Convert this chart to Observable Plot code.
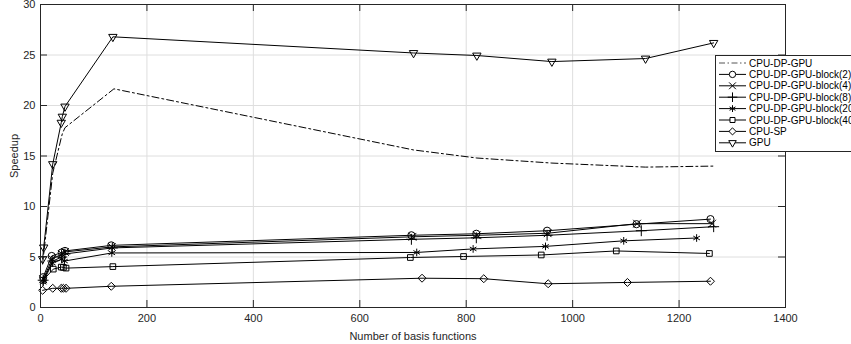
<!DOCTYPE html>
<html><head><meta charset="utf-8">
<script src="https://cdn.jsdelivr.net/npm/d3@7"></script>
<script src="https://cdn.jsdelivr.net/npm/@observablehq/plot@0.6"></script>
<style>
body{margin:0;background:#fff;}
#wrap{position:relative;width:851px;height:344px;overflow:hidden;font-family:"Liberation Sans",Arial,sans-serif;}
#legend{position:absolute;left:715px;top:55px;}
</style>
</head><body><div id="wrap"></div>
<script>
const xTicks = [0, 200, 400, 600, 800, 1000, 1200, 1400];
const yTicks = [0, 5, 10, 15, 20, 25, 30];
const seriesNames = ["CPU-DP-GPU", "CPU-DP-GPU-block(2)", "CPU-DP-GPU-block(4)", "CPU-DP-GPU-block(8)", "CPU-DP-GPU-block(20)", "CPU-DP-GPU-block(40)", "CPU-SP", "GPU"];

const xCpuDpGpu = [4, 6, 23, 39, 41, 46, 138, 701, 820, 961, 1137, 1265];
const yCpuDpGpu = [4.3, 5.3, 13.3, 16.8, 17.2, 17.8, 21.65, 15.6, 14.8, 14.3, 13.9, 14.0];
const xBlock2 = [5, 21, 40, 46, 133, 697, 819, 952, 1120, 1259];
const yBlock2 = [3.0, 5.1, 5.45, 5.6, 6.15, 7.15, 7.3, 7.6, 8.25, 8.75];
const xBlock4 = [5, 22, 40, 46, 134, 699, 820, 953, 1121, 1262];
const yBlock4 = [2.8, 4.8, 5.3, 5.5, 6.0, 7.0, 7.15, 7.35, 8.3, 8.3];
const xBlock8 = [5, 23, 40, 46, 135, 697, 819, 952, 1129, 1265];
const yBlock8 = [2.7, 4.6, 5.0, 5.3, 5.9, 6.75, 6.9, 7.15, 7.6, 8.0];
const xBlock20 = [5, 22, 40, 45, 134, 707, 813, 949, 1096, 1233];
const yBlock20 = [2.5, 4.4, 4.8, 4.6, 5.4, 5.45, 5.8, 6.05, 6.6, 6.88];
const xBlock40 = [5, 24, 39, 43, 48, 136, 695, 795, 941, 1082, 1257];
const yBlock40 = [2.7, 3.8, 4.0, 3.97, 3.9, 4.05, 4.95, 5.05, 5.2, 5.6, 5.35];
const xCpuSp = [4, 23, 39, 43, 48, 133, 717, 833, 954, 1103, 1259];
const yCpuSp = [1.7, 1.9, 1.9, 1.9, 1.9, 2.1, 2.9, 2.85, 2.35, 2.48, 2.6];
const xGpu = [4, 6, 23, 39, 41, 46, 136, 701, 820, 961, 1137, 1265];
const yGpu = [4.8, 5.95, 14.2, 18.3, 18.9, 19.9, 26.8, 25.2, 24.95, 24.35, 24.65, 26.2];

const seriesX = [xCpuDpGpu, xBlock2, xBlock4, xBlock8, xBlock20, xBlock40, xCpuSp, xGpu];
const seriesY = [yCpuDpGpu, yBlock2, yBlock4, yBlock8, yBlock20, yBlock40, yCpuSp, yGpu];
const symbols = [null, "circle", "times", "plus", "asterisk", "square2", "diamond2", "triangle2"];
const d3Symbols = [null, d3.symbolCircle, d3.symbolTimes, d3.symbolPlus, d3.symbolAsterisk, d3.symbolSquare2, d3.symbolDiamond2, d3.symbolTriangle2];

const rows = seriesNames.flatMap((s, i) => seriesX[i].map((x, j) => ({series: s, idx: i, x, y: seriesY[i][j]})));

const W = 851, H = 344, mL = 40, mR = 66, mT = 4, mB = 37;
const iw = W - mL - mR, ih = H - mT - mB;
const tick = 7;
const ink = "#262626";

const marks = [
  Plot.gridX(xTicks, {stroke: "#dedede", strokeOpacity: 1}),
  Plot.gridY(yTicks, {stroke: "#dedede", strokeOpacity: 1}),
  Plot.line(rows.filter(d => d.idx === 0), {x: "x", y: "y", stroke: "#000", strokeWidth: 1, strokeDasharray: "7,3,2,3"}),
  Plot.line(rows.filter(d => d.idx > 0), {x: "x", y: "y", z: "series", stroke: "#000", strokeWidth: 1})
];
for (let i = 1; i < seriesNames.length; i++) {
  marks.push(Plot.dot(rows.filter(d => d.idx === i), {
    x: "x", y: "y", symbol: () => symbols[i], r: i === 7 ? 4 : 3.6,
    stroke: "#000", fill: "none", strokeWidth: 1, rotate: i === 7 ? 180 : 0
  }));
}
marks.push(
  Plot.ruleX(xTicks, {x: d => d, stroke: ink, insetTop: ih - tick}),
  Plot.ruleX(xTicks, {x: d => d, stroke: ink, insetBottom: ih - tick}),
  Plot.ruleY(yTicks, {y: d => d, stroke: ink, insetRight: iw - tick}),
  Plot.ruleY(yTicks, {y: d => d, stroke: ink, insetLeft: iw - tick}),
  Plot.frame({stroke: ink, strokeWidth: 1}),
  Plot.axisX({ticks: xTicks, tickSize: 0, tickPadding: 7, tickFormat: d => String(d), label: "Number of basis functions", labelAnchor: "center", labelArrow: "none", labelOffset: 32, color: ink}),
  Plot.axisY({ticks: yTicks, tickSize: 0, tickPadding: 5, tickFormat: d => String(d), label: "Speedup", labelAnchor: "center", labelArrow: "none", labelOffset: 30, color: ink})
);

const chart = Plot.plot({
  width: W, height: H,
  marginLeft: mL, marginRight: mR, marginTop: mT, marginBottom: mB,
  x: {domain: [0, 1400]},
  y: {domain: [0, 30]},
  style: {fontFamily: '"Liberation Sans", Arial, sans-serif', fontSize: "11px", color: ink, background: "#fff", overflow: "visible"},
  marks
});
const wrap = document.getElementById("wrap");
wrap.appendChild(chart);

// Legend (overlay)
const rowH = 11.4, top0 = 8, lw = 150, lh = 97;
const leg = d3.select(wrap).append("svg").attr("id", "legend").attr("width", lw).attr("height", lh);
leg.append("rect").attr("x", 0.5).attr("y", 0.5).attr("width", lw).attr("height", lh - 1)
  .attr("fill", "#fff").attr("stroke", ink).attr("stroke-width", 1);
seriesNames.forEach((s, i) => {
  const y = top0 + i * rowH;
  const g = leg.append("g").attr("transform", `translate(0,${y})`);
  g.append("line").attr("x1", 4).attr("x2", 31).attr("y1", 0).attr("y2", 0)
    .attr("stroke", i === 0 ? "#555" : "#000").attr("stroke-width", 1)
    .attr("stroke-dasharray", i === 0 ? "6,2.5,1.5,2.5" : null);
  if (d3Symbols[i]) {
    const size = (i === 7 ? 3.6 : 3.2) ** 2 * Math.PI;
    g.append("path").attr("d", d3.symbol(d3Symbols[i], size)())
      .attr("transform", `translate(17.5,0)${i === 7 ? " rotate(180)" : ""}`)
      .attr("fill", "#fff").attr("stroke", "#000").attr("stroke-width", 1);
  }
  g.append("text").attr("x", 34).attr("y", 0).attr("dy", "0.35em")
    .attr("font-size", 10).attr("fill", "#000")
    .attr("font-family", '"Liberation Sans", Arial, sans-serif').text(s);
});
</script>
</body></html>
